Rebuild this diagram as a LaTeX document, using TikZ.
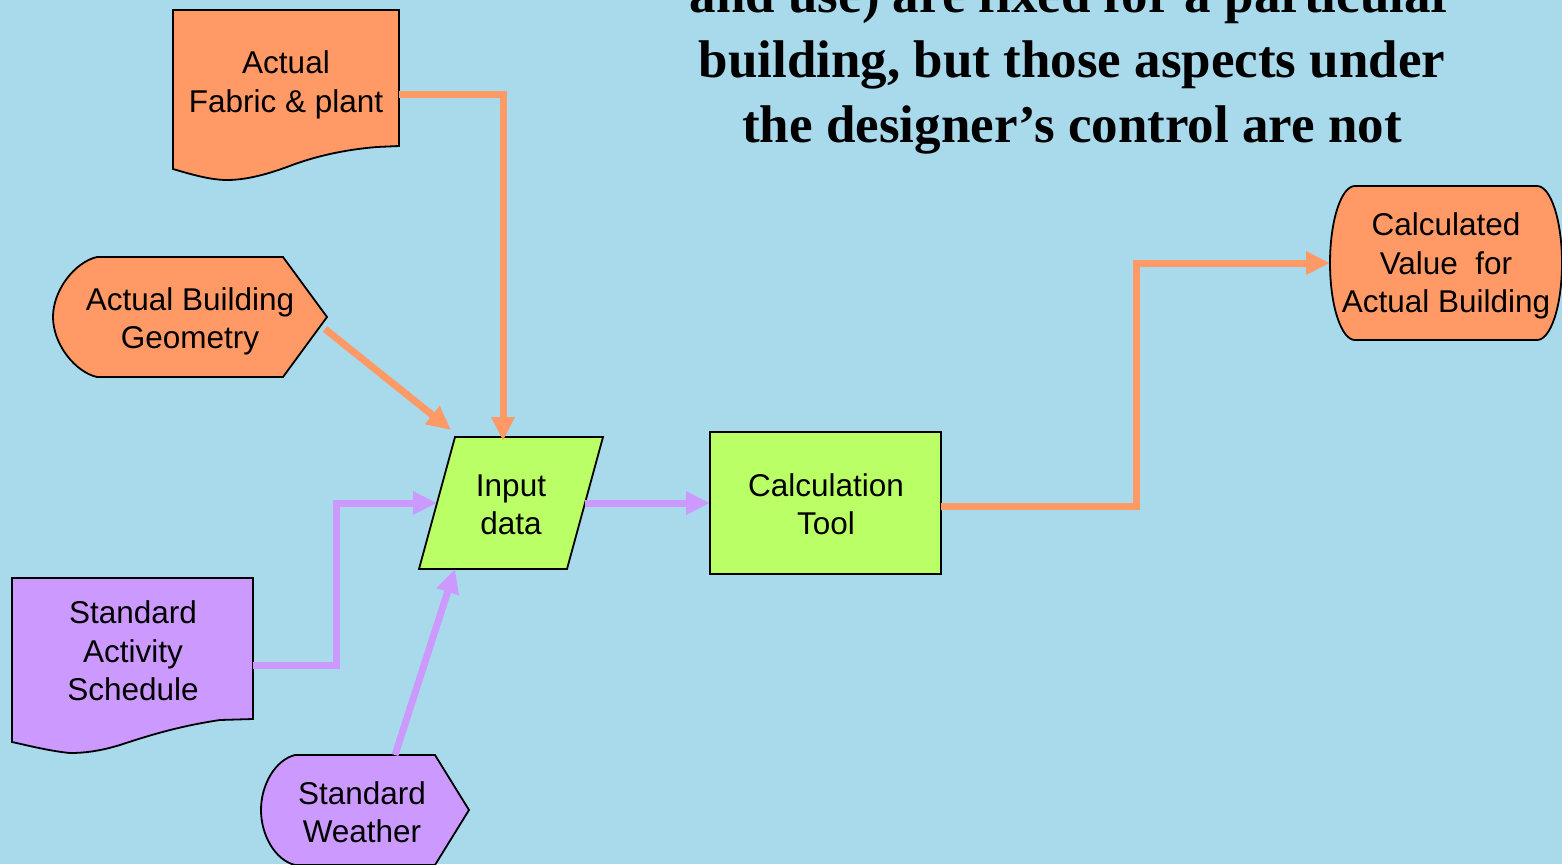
\documentclass[tikz,border=0pt]{standalone}
\usepackage{fontspec}
\setmainfont{Liberation Sans}
\newfontfamily\titlefont{Liberation Serif}
\usetikzlibrary{arrows.meta}
\definecolor{bg}{HTML}{A8DAEC}
\definecolor{org}{HTML}{FF9966}
\definecolor{pur}{HTML}{CC99FF}
\definecolor{grn}{HTML}{BBFF66}
\newcommand\mystrut{\rule[-8pt]{0pt}{29pt}}
\newcommand\tstrut{\rule[-14pt]{0pt}{48pt}}
\begin{document}
\begin{tikzpicture}[x=1pt,y=-1pt,
  shp/.style={draw=black, line width=1.8pt, line join=miter},
  lbl/.style={font=\fontsize{31.5}{38.5}\selectfont, align=center, inner sep=0pt, anchor=center},
  conn/.style={line width=7pt, -{Triangle[length=24pt,width=22pt]}},
  oconn/.style={conn, draw=org},
  pconn/.style={conn, draw=pur}]
\useasboundingbox (0,0) rectangle (1562,864);
\clip (0,0) rectangle (1562,864);
\fill[bg] (0,0) rectangle (1562,864);

% title (partly cut off at the top)
\node[font=\titlefont\bfseries\fontsize{53}{65}\selectfont, align=center, inner sep=0pt, anchor=center] (title) at (1072,66)
  {\tstrut and use) are fixed for a particular\\\tstrut building, but those aspects under\\\tstrut the designer’s control are not};

% shapes
\path[shp, fill=org] (173,10) -- (399,10) -- (399,146) -- (377,147)
  .. controls (340,150) and (310,158) .. (287,167)
  .. controls (265,175) and (245,180) .. (227,180)
  .. controls (210,180) and (190,174) .. (173,169) -- cycle;
\node[lbl] (fab) at (286,85.5) {\mystrut Actual\\\mystrut Fabric \& plant};

\path[shp, fill=org] (97,257) -- (283,257) -- (327,317) -- (283,377) -- (97,377)
  .. controls (75,372) and (53,344) .. (53,317)
  .. controls (53,290) and (75,262) .. (97,257) -- cycle;
\node[lbl] (geo) at (190,322) {\mystrut Actual Building\\\mystrut Geometry};

\path[shp, fill=pur] (12,578) -- (253,578) -- (253,719) -- (220,720)
  .. controls (180,726) and (150,735) .. (120,745)
  .. controls (100,751) and (85,753) .. (70,753)
  .. controls (50,751) and (30,746) .. (12,742) -- cycle;
\node[lbl] (act) at (133,655) {\mystrut Standard\\\mystrut Activity\\\mystrut Schedule};

\path[shp, fill=pur] (295,755) -- (435,755) -- (469,810) -- (435,865) -- (295,865)
  .. controls (275,860) and (261,835) .. (261,810)
  .. controls (261,785) and (275,760) .. (295,755) -- cycle;
\node[lbl] (wea) at (362,816) {\mystrut Standard\\\mystrut Weather};

\path[shp, fill=grn] (455,437) -- (603,437) -- (567,569) -- (419,569) -- cycle;
\node[lbl] (inp) at (511,508.5) {\mystrut Input\\\mystrut data};

\path[shp, fill=grn] (710,432) rectangle (941,574);
\node[lbl] (calc) at (826,508) {\mystrut Calculation\\\mystrut Tool};

\path[shp, fill=org] (1355,186) -- (1537,186)
  .. controls (1550.8,186) and (1562,220.5) .. (1562,263)
  .. controls (1562,305.5) and (1550.8,340) .. (1537,340)
  -- (1355,340)
  .. controls (1341.2,340) and (1330,305.5) .. (1330,263)
  .. controls (1330,220.5) and (1341.2,186) .. (1355,186) -- cycle;
\node[lbl] (val) at (1446,267) {\mystrut Calculated\\\mystrut Value\ \ for\\\mystrut Actual Building};

% connector end points
\coordinate (fabE) at (399,95);
\coordinate (inpT) at (503,441);
\coordinate (geoE) at (325,329);
\coordinate (inpTL) at (451,430);
\coordinate (actE) at (253,665);
\coordinate (inpL) at (437,503);
\coordinate (weaT) at (395,755);
\coordinate (inpB) at (455,569);
\coordinate (inpR) at (585,503);
\coordinate (calcL) at (710,503);
\coordinate (calcR) at (941,506);
\coordinate (valL) at (1330,263);

% connectors
\draw[oconn] (fabE) -| (inpT);
\draw[oconn] (geoE) -- (inpTL);
\draw[pconn] (actE) -- (336,665) |- (inpL);
\draw[pconn] (weaT) -- (inpB);
\draw[pconn] (inpR) -- (calcL);
\draw[oconn] (calcR) -- (1136,506) |- (valL);
\end{tikzpicture}
\end{document}
